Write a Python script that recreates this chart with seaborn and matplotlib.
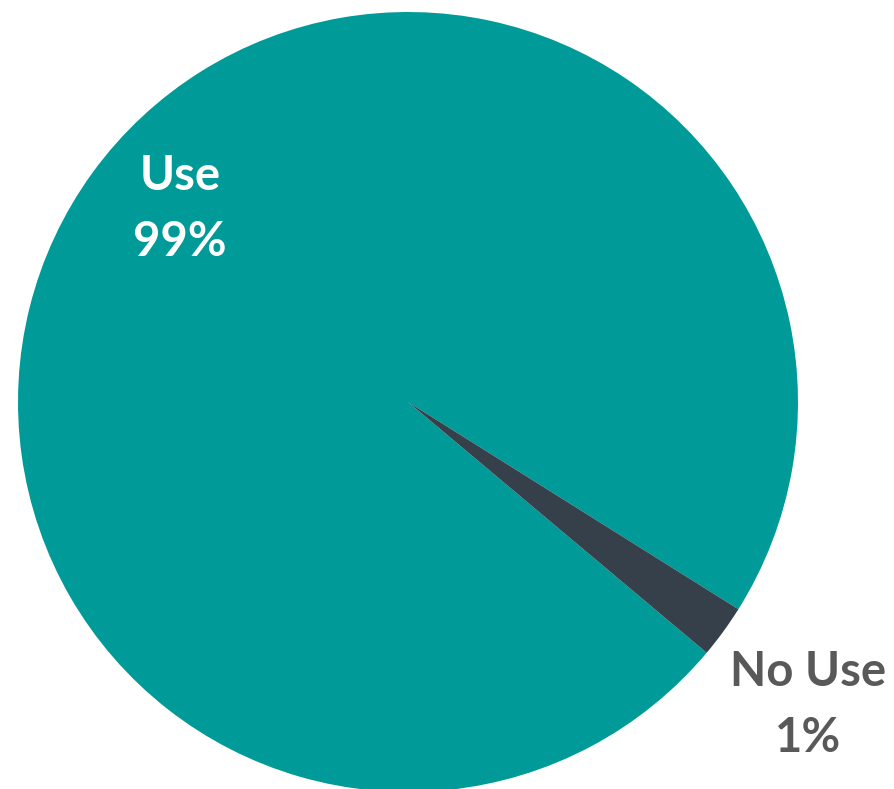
import matplotlib
matplotlib.use('Agg')
import matplotlib.pyplot as plt
import seaborn as sns

categories = ['Use', 'No Use']
shares = [97.8, 2.2]
pct_labels = ['99%', '1%']
colors = ['#009A98', '#36404B']

sns.set_theme(style='white')
plt.rcParams['font.family'] = ['Lato', 'DejaVu Sans']

fig = plt.figure(figsize=(8.95, 7.89), dpi=100)
ax = fig.add_axes([0, 0, 1, 1])

ax.pie(shares, colors=colors, startangle=-32.1, counterclock=True,
       radius=1, wedgeprops=dict(linewidth=0))

# same scale on both axes: 390 px per unit
ax.set_xlim(-408 / 390, (895 - 408) / 390)
ax.set_ylim(-(789 - 402) / 390, 402 / 390)
ax.axis('off')

ax.text(-0.585, 0.495, f'{categories[0]}\n{pct_labels[0]}', color='white',
        fontsize=34, fontweight='bold', ha='center', va='center', linespacing=1.6)
ax.text(1.026, -0.777, f'{categories[1]}\n{pct_labels[1]}', color='#595959',
        fontsize=34, fontweight='bold', ha='center', va='center', linespacing=1.6)

plt.savefig('out.png', dpi=100)
plt.close()
